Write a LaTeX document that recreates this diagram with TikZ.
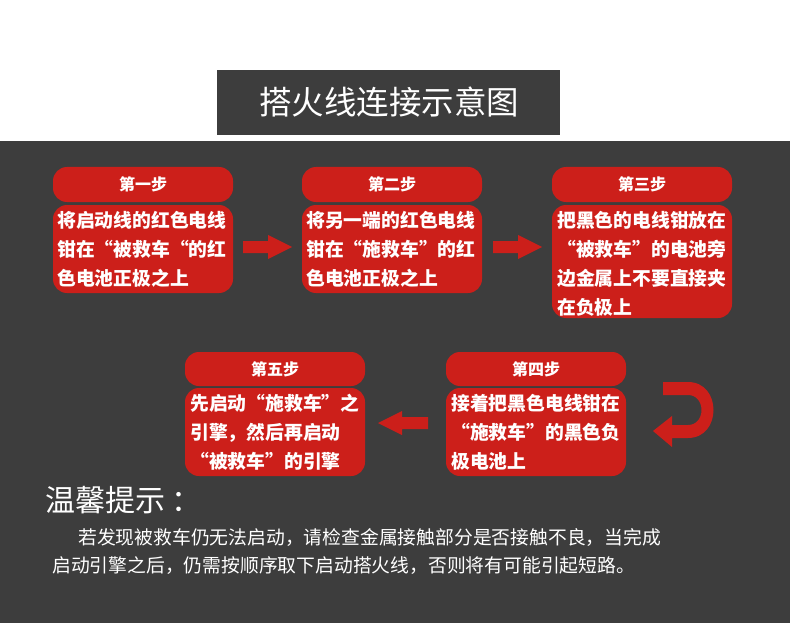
\documentclass[tikz,border=0pt]{standalone}
\usepackage{fontspec}
\newfontfamily\cjk{Noto Sans CJK SC}
\begin{document}
\begin{tikzpicture}[x=1pt,y=-1pt,
  red box/.style={fill=myred,rounded corners=14pt,draw=none},
  head/.style={text=white,font=\cjk\bfseries\fontsize{16}{18}\selectfont},
  body/.style={text=white,anchor=north west,align=left,inner sep=0pt,font=\cjk\bfseries\fontsize{18.8}{29}\selectfont},
  arr/.style={fill=myred,draw=none}]
\definecolor{myred}{HTML}{CC1F1A}
\definecolor{dark}{HTML}{3D3D3D}
\useasboundingbox (0,0) rectangle (790,623);
\fill[white] (0,0) rectangle (790,141);
\fill[dark] (0,141) rectangle (790,623);
\fill[dark] (217,70) rectangle (560,135);
\node[text=white,font=\cjk\fontsize{32.5}{34}\selectfont] (title) at (389,102) {搭火线连接示意图};
% row 1
\foreach \x/\n/\h in {53/a/第一步,302/b/第二步,552/c/第三步}{
  \fill[red box] (\x,167) rectangle ++(180,35);
  \node[head] (h\n) at (\x+90,184.5) {\h};
}
\fill[red box] (53,205) rectangle (233,293);
\fill[red box] (302,205) rectangle (482,293);
\fill[red box] (552,205) rectangle (732,318);
\node[body] (ba) at (57,211) {将启动线的红色电线\\钳在“被救车“的红\\色电池正极之上};
\node[body] (bb) at (306,211) {将另一端的红色电线\\钳在“施救车”的红\\色电池正极之上};
\node[body] (bc) at (557,211) {把黑色的电线钳放在\\“被救车”的电池旁\\边金属上不要直接夹\\在负极上};
% row 2
\fill[red box] (185,352) rectangle (365,386);
\node[head] (he) at (275,369) {第五步};
\fill[red box] (446,352) rectangle (626,386);
\node[head] (hd) at (536,369) {第四步};
\fill[red box] (185,388) rectangle (365,476);
\fill[red box] (446,388) rectangle (626,476);
\node[body] (be) at (190,394) {先启动“施救车”之\\引擎，然后再启动\\“被救车”的引擎};
\node[body] (bd) at (451,394) {接着把黑色电线钳在\\“施救车”的黑色负\\极电池上};
% arrows
\fill[arr] (243,241) -- (268,241) -- (268,235) -- (292,247) -- (268,259) -- (268,253) -- (243,253) -- cycle;
\fill[arr] (493,241) -- (518,241) -- (518,235) -- (542,247) -- (518,259) -- (518,253) -- (493,253) -- cycle;
\fill[arr] (428,417) -- (402,417) -- (402,411) -- (378,423) -- (402,435) -- (402,429) -- (428,429) -- cycle;
\fill[arr] (663,382) -- (688,382) .. controls (722,382) and (722,438) .. (688,438) -- (672,438) -- (672,447) -- (653,431) -- (672,416) -- (672,425) -- (688,425) .. controls (706,425) and (706,395) .. (688,395) -- (663,395) -- cycle;
% tips
\node[anchor=west,text=white,inner sep=0pt,font=\cjk\fontsize{30}{32}\selectfont] (tip) at (45,500) {温馨提示 ：};
\node[anchor=west,text=white,inner sep=0pt,font=\cjk\fontsize{18.8}{20}\selectfont] (p1) at (78,538) {若发现被救车仍无法启动，请检查金属接触部分是否接触不良，当完成};
\node[anchor=west,text=white,inner sep=0pt,font=\cjk\fontsize{18.8}{20}\selectfont] (p2) at (52,566) {启动引擎之后，仍需按顺序取下启动搭火线，否则将有可能引起短路。};
\end{tikzpicture}
\end{document}
